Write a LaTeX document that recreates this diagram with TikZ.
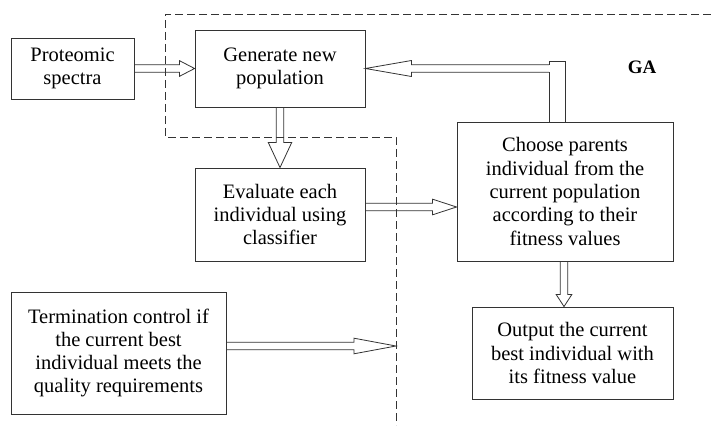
\documentclass[tikz,border=0pt]{standalone}
\usepackage{fontspec}
\setmainfont{Liberation Serif}
\usetikzlibrary{calc}
\newcommand\blkarrow[4]{%
  \coordinate (bh) at ($(#2)!#3!(#1)$);
  \draw[blk] ($(#1)!3.7pt!90:(#2)$) -- ($(bh)!3.7pt!90:(#2)$) -- ($(bh)!#4!90:(#2)$) -- (#2)
    -- ($(bh)!#4!-90:(#2)$) -- ($(bh)!3.7pt!-90:(#2)$) -- ($(#1)!3.7pt!-90:(#2)$);
}
\begin{document}
\begin{tikzpicture}[x=1pt,y=-1pt,
  box/.style={draw=black!80,line width=0.9pt,align=center,inner sep=0pt,
    font=\fontsize{20.5}{23.3}\selectfont},
  blk/.style={draw=black!80,line width=0.8pt,line join=miter},
  region/.style={draw=black!80,line width=0.9pt,dash pattern=on 8pt off 4pt}]
\useasboundingbox (0,0) rectangle (711,425);
% GA region
\draw[region] (711,14) -- (165,14) -- (165,137) -- (396,137) -- (396,425);
\node[font=\fontsize{19}{22}\selectfont\bfseries] (ga) at (642,67) {GA};
% boxes
\node[box,minimum width=123pt,minimum height=61pt] (prot) at (72.5,68.5) {Proteomic\\spectra};
\node[box,minimum width=170pt,minimum height=77pt] (gen) at (280,68.5) {Generate new\\population};
\node[box,minimum width=170pt,minimum height=93pt] (eval) at (280,214.5) {Evaluate each\\individual using\\classifier};
\node[box,minimum width=216pt,minimum height=139pt] (choose) at (565,191.5) {Choose parents\\individual from the\\current population\\according to their\\fitness values};
\node[box,minimum width=215pt,minimum height=122pt] (term) at (118.5,353) {Termination control if\\the current best\\individual meets the\\quality requirements};
\node[box,minimum width=201pt,minimum height=92pt] (out) at (572.5,353) {Output the current\\best individual with\\its fitness value};
% connector coordinates
\coordinate (e3s) at (eval.east |- 0,207);
\coordinate (e3e) at (choose.west |- 0,207);
\coordinate (e4s) at (term.east |- 0,346);
\coordinate (e4e) at (396,346);
\coordinate (e5s) at (564,0 |- choose.south);
\coordinate (e5e) at (564,0 |- out.north);
\coordinate (fbs) at (549,68.5);
% connectors
\blkarrow{prot.east}{gen.west}{15pt}{7.8pt}
\blkarrow{gen.south}{eval.north}{25pt}{11.7pt}
\blkarrow{e3s}{e3e}{24pt}{7.8pt}
\blkarrow{e4s}{e4e}{42pt}{7.8pt}
\blkarrow{e5s}{e5e}{12pt}{7.8pt}
\draw[blk] (549,0 |- choose.north) -- (549,72.2) (549,64.8) -- (549,61) -- (565,61) -- (565,0 |- choose.north);
\blkarrow{fbs}{gen.east}{46pt}{8pt}
\end{tikzpicture}
\end{document}
